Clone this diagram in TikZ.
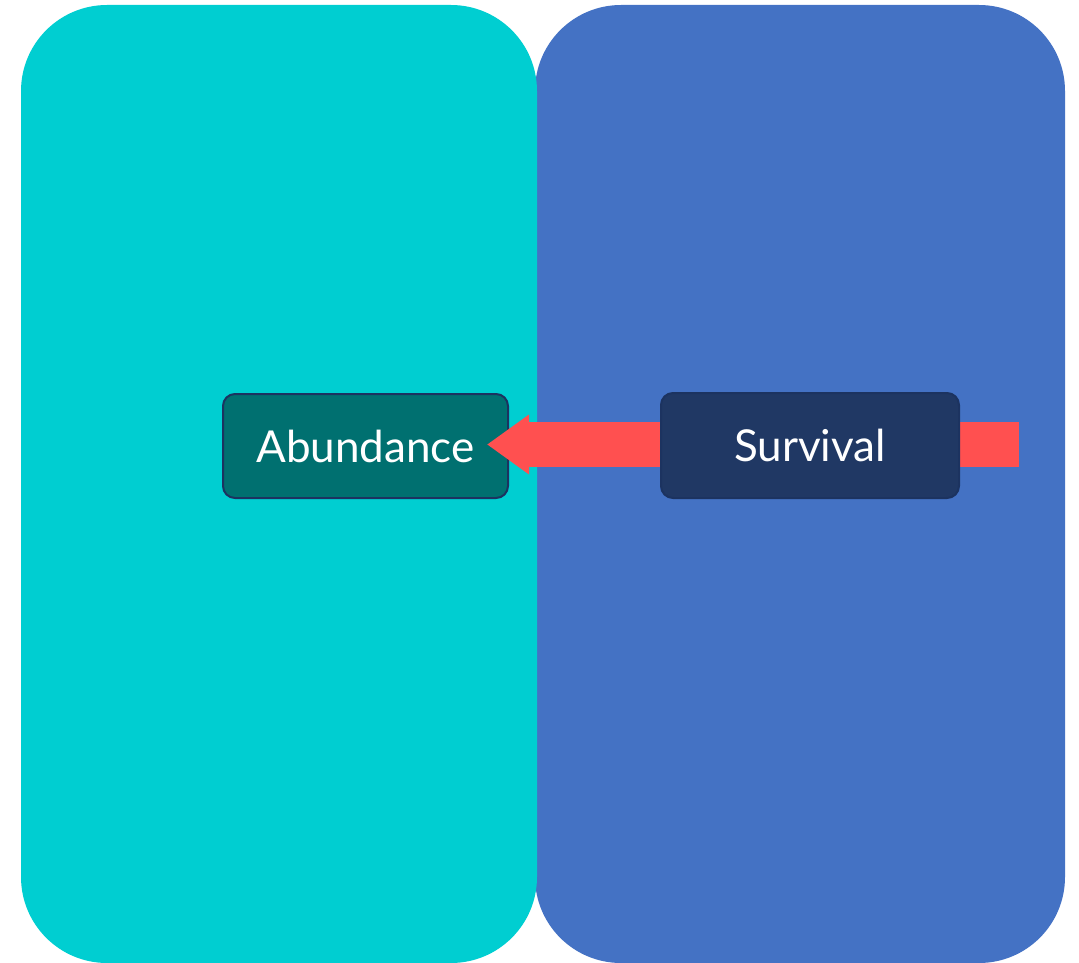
\documentclass[tikz,border=0pt]{standalone}
\usepackage{fontspec}
\setmainfont{Lato}
\usetikzlibrary{arrows.meta}
\definecolor{panelcyan}{HTML}{00CED1}
\definecolor{panelblue}{HTML}{4472C4}
\definecolor{arrowred}{HTML}{FF5050}
\definecolor{tealfill}{HTML}{007070}
\definecolor{navyfill}{HTML}{203864}
\definecolor{navyline}{HTML}{1C3360}
\pgfdeclarelayer{panels}
\pgfdeclarelayer{lower}
\pgfdeclarelayer{arrows}
\pgfsetlayers{panels,lower,arrows,main}
\tikzset{
  panel/.style={rounded corners=64.5pt},
  box/.style={draw=navyline, line width=1.5pt, rounded corners=9pt,
    text=white, font=\fontsize{33}{39}\selectfont, inner sep=0pt},
  flow/.style={arrowred, line width=33.75pt, line cap=butt,
    -{Triangle[length=31.5pt, width=42.75pt]}}
}
\begin{document}
\begin{tikzpicture}[x=0.75pt, y=-0.75pt]
\useasboundingbox (0,0) rectangle (1079,963);
\begin{pgfonlayer}{panels}
  \fill[panelblue, panel] (535,5) rectangle (1065,963);
  \fill[panelcyan, panel] (21,5) rectangle (537,963);
\end{pgfonlayer}
\begin{pgfonlayer}{lower}
  \node[box, fill=tealfill, minimum width=213.75pt, minimum height=78pt]
    (abund) at (365.5,446) {Abundance};
\end{pgfonlayer}
\node[box, fill=navyfill, minimum width=223.5pt, minimum height=78.75pt]
  (surv) at (810,445.5) {Survival};
\coordinate (flowsrc) at (1019,444.5);
\begin{pgfonlayer}{arrows}
  \draw[flow] (flowsrc) -- ([xshift=-16.5pt]abund.east |- flowsrc);
\end{pgfonlayer}
\end{tikzpicture}
\end{document}
